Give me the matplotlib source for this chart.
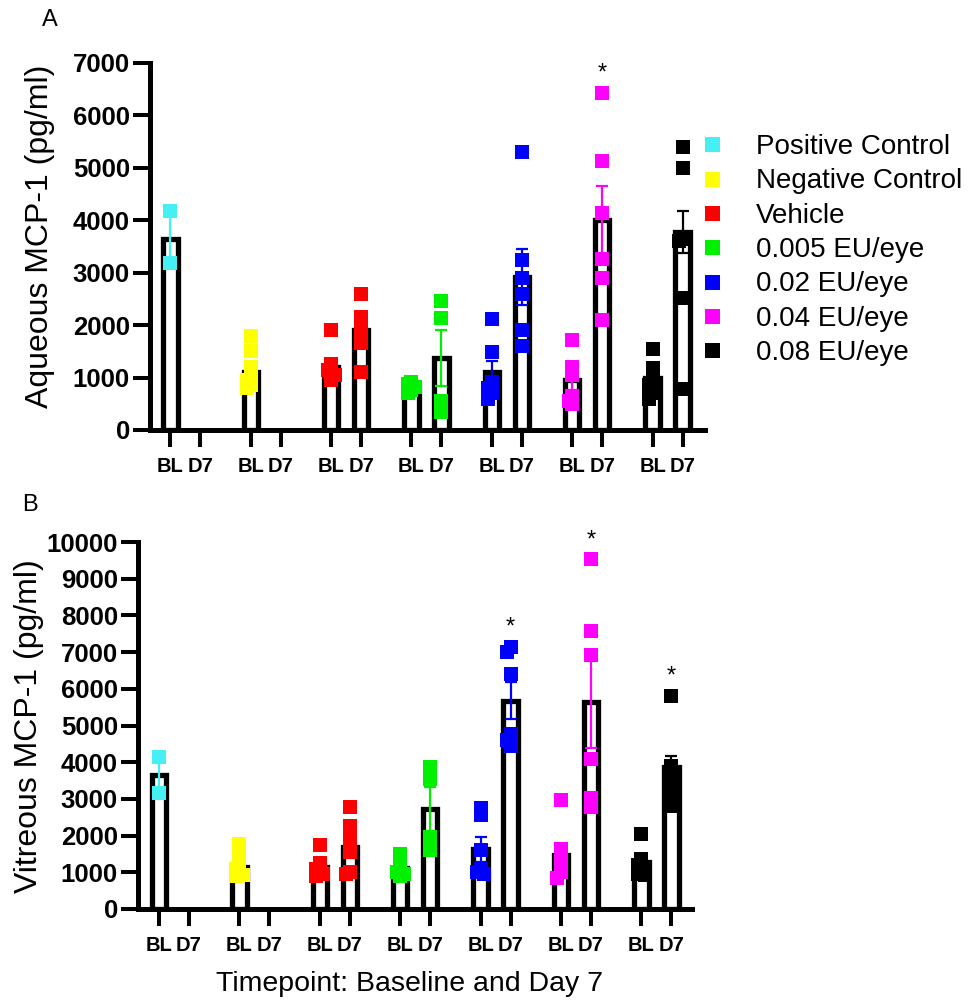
import numpy as np
import matplotlib
matplotlib.use("Agg")
import matplotlib.pyplot as plt
from matplotlib.lines import Line2D

plt.rcParams['font.family'] = ['Liberation Sans', 'DejaVu Sans']

# ---------------- data ----------------
groups = ["Positive Control", "Negative Control", "Vehicle", "0.005 EU/eye",
          "0.02 EU/eye", "0.04 EU/eye", "0.08 EU/eye"]
colors = ["#45F0F5", "#FFFF00", "#FF0000", "#00F000", "#0000FF", "#FF00FF", "#000000"]
timepoints = ["BL", "D7"]

# Panel A: Aqueous MCP-1 (pg/ml)
aq_bl_mean = [3650, 1100, 1200, 830, 1100, 950, 1000]
aq_bl_sem = [500, 150, 130, 50, 220, 180, 140]
aq_d7_mean = [np.nan, np.nan, 1900, 1370, 2920, 4000, 3780]
aq_d7_sem = [np.nan, np.nan, 230, 540, 530, 650, 400]
aq_bl_points = [
    [4170, 3180],
    [1800, 1500, 1200, 1050, 950, 850, 800],
    [1900, 1250, 1150, 1100, 1050, 950],
    [920, 880, 820, 760, 700],
    [2120, 1480, 920, 800, 700, 600],
    [1720, 1200, 1050, 650, 550, 500],
    [1550, 1180, 950, 850, 700, 600],
]
aq_d7_points = [
    [],
    [],
    [2600, 2150, 1950, 1800, 1650, 1100],
    [2460, 2140, 560, 350],
    [5300, 3250, 2900, 2600, 1900, 1600],
    [6430, 5130, 4140, 3260, 2900, 2100],
    [5400, 4990, 3650, 3600, 2520, 780],
]
aq_star_d7 = [False, False, False, False, False, True, False]

# Panel B: Vitreous MCP-1 (pg/ml)
vit_bl_mean = [3650, 1150, 1150, 1130, 1630, 1470, 1280]
vit_bl_sem = [500, 130, 130, 100, 340, 300, 160]
vit_d7_mean = [np.nan, np.nan, 1680, 2720, 5680, 5640, 3870]
vit_d7_sem = [np.nan, np.nan, 280, 610, 500, 1250, 300]
vit_bl_points = [
    [4150, 3160],
    [1780, 1450, 1250, 1100, 1000, 920, 900],
    [1750, 1250, 1100, 1000, 950, 900],
    [1500, 1300, 1100, 1000, 950, 900],
    [2740, 2550, 1600, 1100, 1000, 950],
    [2970, 1630, 1400, 1200, 1000, 850],
    [2040, 1360, 1200, 1050, 950, 930],
]
vit_d7_points = [
    [],
    [],
    [2780, 2260, 1900, 1550, 1000, 950],
    [3870, 3540, 1960, 1600],
    [7140, 7000, 6400, 4770, 4600, 4440],
    [9530, 7570, 6920, 4080, 3020, 2780],
    [5800, 3900, 3700, 3450, 3100, 2800],
]
vit_star_d7 = [False, False, False, False, True, True, True]

# ---------------- figure ----------------
W, H = 977, 1000
fig = plt.figure(figsize=(W / 100, H / 100), dpi=100)

def fr(x0, y_top, x1, y_bot):
    return [x0 / W, 1 - y_bot / H, (x1 - x0) / W, (y_bot - y_top) / H]

axA = fig.add_axes(fr(150, 63, 705, 430))
axB = fig.add_axes(fr(138, 542, 692, 909))

GROUP_STEP = 2.68
BAR_W = 0.48
MARKER_PX = 15


def swarm_offsets(vals, px_per_unit):
    placed = []
    offs = []
    for v in vals:
        chosen = 0.0
        for cand in [0.0, -0.12, 0.12, -0.22, 0.22]:
            clash = False
            for (pv, po) in placed:
                if abs(v - pv) * px_per_unit < MARKER_PX * 0.45 and abs(cand - po) * 30 < 3:
                    clash = True
                    break
            if not clash:
                chosen = cand
                break
        placed.append((v, chosen))
        offs.append(chosen)
    return offs


def draw_panel(ax, bl_mean, bl_sem, d7_mean, d7_sem, bl_pts, d7_pts, stars, ymax, px_per_unit):
    ticks, labels = [], []
    for i in range(len(groups)):
        xb = i * GROUP_STEP
        xd = xb + 1
        ticks += [xb, xd]
        labels += timepoints
        for x, m, s, pts in [(xb, bl_mean[i], bl_sem[i], bl_pts[i]),
                             (xd, d7_mean[i], d7_sem[i], d7_pts[i])]:
            if np.isnan(m):
                continue
            ax.bar(x, m, width=BAR_W, facecolor='white', edgecolor='black',
                   linewidth=3.8, zorder=2)
            ax.errorbar(x, m, yerr=s, color=colors[i], lw=1.6, capsize=4.3,
                        capthick=1.6, zorder=3, fmt='none')
            offs = swarm_offsets(pts, px_per_unit)
            ax.scatter(np.array(offs) + x, pts, marker='s', s=112, color=colors[i],
                       linewidths=0, zorder=4, clip_on=False)
        if stars[i]:
            top = max(d7_pts[i])
            ax.annotate('*', (xb + 1, top), xytext=(0, 9.5), textcoords='offset points',
                        ha='center', va='baseline', fontsize=17)
    ax.set_ylim(0, ymax)
    ax.set_xticks(ticks, labels, fontweight='bold', fontsize=14.5)
    yt = np.arange(0, ymax + 1, 1000)
    ax.set_yticks(yt, [str(int(v)) for v in yt], fontweight='bold', fontsize=18.5)
    for side in ['top', 'right']:
        ax.spines[side].set_visible(False)
    for side in ['left', 'bottom']:
        ax.spines[side].set_linewidth(3.6)
    ax.tick_params(axis='both', direction='out', length=12.5, width=2.9)
    ax.tick_params(axis='x', pad=7)
    ax.tick_params(axis='y', pad=2)


draw_panel(axA, aq_bl_mean, aq_bl_sem, aq_d7_mean, aq_d7_sem, aq_bl_points,
           aq_d7_points, aq_star_d7, 7000, 52.4 / 1000)
axA.set_xlim(-0.68, 17.83)
draw_panel(axB, vit_bl_mean, vit_bl_sem, vit_d7_mean, vit_d7_sem, vit_bl_points,
           vit_d7_points, vit_star_d7, 10000, 36.7 / 1000)
axB.set_xlim(-0.70, 17.77)

axA.set_ylabel("Aqueous MCP-1 (pg/ml)", fontsize=23, va='center')
axA.yaxis.set_label_coords(40 / W, 1 - 236 / H, transform=fig.transFigure)
axB.set_ylabel("Vitreous MCP-1 (pg/ml)", fontsize=23, va='center')
axB.yaxis.set_label_coords(29 / W, 1 - 726 / H, transform=fig.transFigure)
axB.set_xlabel("Timepoint: Baseline and Day 7", fontsize=20.5, va='center')
axB.xaxis.set_label_coords(410 / W, 1 - 984 / H, transform=fig.transFigure)

fig.text(50 / W, 1 - 20 / H, "A", fontsize=17, ha='center', va='center')
fig.text(30 / W, 1 - 505 / H, "B", fontsize=17, ha='center', va='center')

handles = [Line2D([], [], marker='s', ls='none', color=c, markersize=10.8,
                  markeredgewidth=0) for c in colors]
fig.legend(handles, groups, loc='upper left',
           bbox_to_anchor=(699 / W, 1 - 134 / H), bbox_transform=fig.transFigure,
           frameon=False, fontsize=20, handlelength=0.95, handletextpad=1.1,
           labelspacing=0.30, borderpad=0, borderaxespad=0)

fig.savefig("out.png", dpi=100)
